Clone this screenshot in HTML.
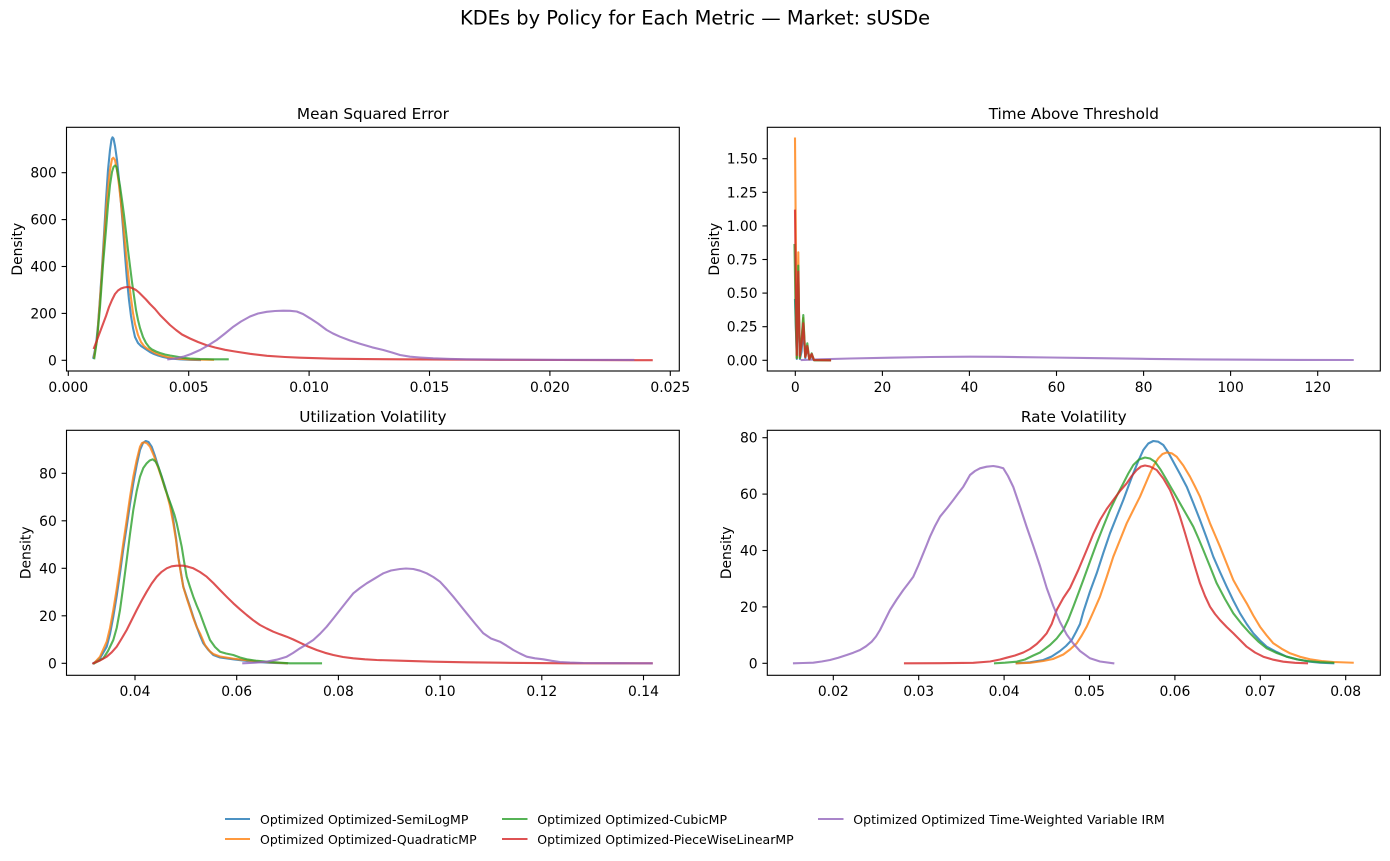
<!DOCTYPE html>
<html>
<head>
<meta charset="utf-8">
<style>
html,body{margin:0;padding:0;background:#fff;}
svg{display:block;}
text{font-family:"DejaVu Sans","Liberation Sans",sans-serif;fill:#000;}
.tk{font-size:13.89px;}
.ttl{font-size:15.28px;}
.lg{font-size:12.5px;}
.c{fill:none;stroke-width:2.1;stroke-linejoin:round;stroke-linecap:square;stroke-opacity:0.8;}
.b{stroke:#1f77b4;}.o{stroke:#ff7f0e;}.g{stroke:#2ca02c;}.r{stroke:#d62728;}.p{stroke:#9467bd;}
.ax{fill:none;stroke:#000;stroke-width:1.1;}
.t{stroke:#000;stroke-width:1.1;}
</style>
</head>
<body>
<svg width="1390" height="861" viewBox="0 0 1390 861" xmlns="http://www.w3.org/2000/svg">
<rect width="1390" height="861" fill="#fff"/>
<text x="695" y="24.5" text-anchor="middle" style="font-size:19.44px">KDEs by Policy for Each Metric — Market: sUSDe</text>

<!-- ============ Subplot 1: Mean Squared Error ============ -->
<text class="ttl" x="372.9" y="119" text-anchor="middle">Mean Squared Error</text>
<polyline class="c b" points="93.3,357.7 96,345 98,325 100,298 102,268 104,235 106,200 108,170 110,150 111.5,139.5 112.5,137.3 113.5,138.5 115,146 117,160 119,180 121,203 123,228 125,255 127,280 129,300 131,316 133,328 135,337 138,343 141,346 144,348 147,350 150,352 154,354 158,355.5 163,357 170,358.5 180,359.3 190,359.8 200,360"/>
<polyline class="c o" points="94,357 97,340 100,300 102,272 104,242 106,212 108,188 110,170 112,159 113.3,157.7 115,160 117,170 119,185 121,203 123,222 125,243 127,263 129,282 131,298 133,313 135,324 138,335 141,342 144,346 147,348.5 150,350 155,353 160,355 167,357 175,358.5 190,359.4 213,359.8"/>
<polyline class="c g" points="94.3,358.3 97,340 100,307 103,265 106,230 108,205 110,185 112,172 113.5,167 115,165.5 116.5,167 118,175 120,186 122,200 124,215 126,232 128,250 130,266 132,282 134,296 136,310 138,320 140,328 143,337 146,343 149,347 152,349.5 156,351.5 160,353 165,354.5 170,355.5 176,356.5 183,357.8 190,358.5 200,359 213,359.3 227.7,359.3"/>
<polyline class="c r" points="94,348 97,340 100,332 103,324 106,316 109,307 112,300 115,294 118,290.5 121,288.5 124,287.5 127,287 130,287.3 133,288.5 136,290 139,292.5 142,295.5 146,299.5 150,304 155,309 160,315 165,320 170,325 176,330 182,334.5 190,338.5 198,342 206,345 215,347.5 225,349.8 235,351.5 250,353.8 267,355.8 285,357 300,357.7 333,358.7 366,359.1 400,359.3 450,359.6 500,359.8 560,360 651.7,360.2"/>
<polyline class="c p" points="168.3,359.3 175,358.5 183.3,356.7 191,354 200,350 208,345.5 216.7,340 225,333.5 233.3,326.7 241,321.5 250,316.5 258,313.5 266.7,311.8 275,311 283.3,310.7 290,310.8 296.7,311.5 303,314 310,318.3 318,323.5 326.7,330 333,333.5 340,336.7 350,340.5 360,343.7 372,347.3 383.3,350 392,352.5 400,355 410,356.7 420,357.5 433.3,358.3 450,358.9 466.7,359.3 500,359.6 550,359.8 633.3,359.9"/>
<rect class="ax" x="66.5" y="127.3" width="612.8" height="243.7"/>
<g class="t">
<line x1="68.3" y1="371" x2="68.3" y2="375.9"/><line x1="188.7" y1="371" x2="188.7" y2="375.9"/><line x1="309.1" y1="371" x2="309.1" y2="375.9"/><line x1="429.5" y1="371" x2="429.5" y2="375.9"/><line x1="549.9" y1="371" x2="549.9" y2="375.9"/><line x1="670.3" y1="371" x2="670.3" y2="375.9"/>
<line x1="61.6" y1="360.3" x2="66.5" y2="360.3"/><line x1="61.6" y1="313.4" x2="66.5" y2="313.4"/><line x1="61.6" y1="266.5" x2="66.5" y2="266.5"/><line x1="61.6" y1="219.6" x2="66.5" y2="219.6"/><line x1="61.6" y1="172.7" x2="66.5" y2="172.7"/>
</g>
<g class="tk" text-anchor="middle">
<text x="68.3" y="391.8">0.000</text><text x="188.7" y="391.8">0.005</text><text x="309.1" y="391.8">0.010</text><text x="429.5" y="391.8">0.015</text><text x="549.9" y="391.8">0.020</text><text x="670.3" y="391.8">0.025</text>
</g>
<g class="tk" text-anchor="end">
<text x="56.8" y="365.3">0</text><text x="56.8" y="318.4">200</text><text x="56.8" y="271.5">400</text><text x="56.8" y="224.6">600</text><text x="56.8" y="177.7">800</text>
</g>
<text class="tk" transform="translate(22,249.2) rotate(-90)" text-anchor="middle">Density</text>

<!-- ============ Subplot 2: Time Above Threshold ============ -->
<text class="ttl" x="1073.8" y="119" text-anchor="middle">Time Above Threshold</text>
<polyline class="c p" points="801.7,360 820,359.3 850,358.5 890,357.7 930,357 970,356.7 1000,356.8 1050,357.5 1100,358.2 1150,358.9 1200,359.4 1250,359.7 1300,359.9 1352.7,360"/>
<polyline class="c b" points="795,300 796.8,359 798.3,290 799.9,359 801.5,352 803.3,330 805.3,358 807.3,348 809.3,359.5 811.7,356 814,360.2 830,360.3"/>
<polyline class="c o" points="795,138.5 795.9,250 796.8,358 797.6,310 798.3,252.3 799.1,320 799.9,358 801.3,345 803.3,318 805.3,357 807.3,346 809.3,359.3 811.7,355 814,360.2 830,360.3"/>
<polyline class="c g" points="794.5,245 795.7,320 796.8,358 797.6,300 798.3,265.7 799.1,320 799.9,358 801.5,340 803.3,315 805.3,357 807.3,343.3 809.3,359 811.7,353.3 814,360.2 830,360.3"/>
<polyline class="c r" points="795,210.7 795.9,290 796.8,355 797.6,300 798.3,271.7 799.1,320 799.8,356 801.5,345 803.3,323.3 805.3,357 807.3,346 809.3,359 811.7,354 814,360 830,360.3"/>
<rect class="ax" x="767.3" y="127.3" width="613" height="243.7"/>
<g class="t">
<line x1="795.3" y1="371" x2="795.3" y2="375.9"/><line x1="882.4" y1="371" x2="882.4" y2="375.9"/><line x1="969.4" y1="371" x2="969.4" y2="375.9"/><line x1="1056.5" y1="371" x2="1056.5" y2="375.9"/><line x1="1143.6" y1="371" x2="1143.6" y2="375.9"/><line x1="1230.6" y1="371" x2="1230.6" y2="375.9"/><line x1="1317.7" y1="371" x2="1317.7" y2="375.9"/>
<line x1="762.4" y1="360.3" x2="767.3" y2="360.3"/><line x1="762.4" y1="326.7" x2="767.3" y2="326.7"/><line x1="762.4" y1="293.1" x2="767.3" y2="293.1"/><line x1="762.4" y1="259.5" x2="767.3" y2="259.5"/><line x1="762.4" y1="225.9" x2="767.3" y2="225.9"/><line x1="762.4" y1="192.3" x2="767.3" y2="192.3"/><line x1="762.4" y1="158.7" x2="767.3" y2="158.7"/>
</g>
<g class="tk" text-anchor="middle">
<text x="795.3" y="391.8">0</text><text x="882.4" y="391.8">20</text><text x="969.4" y="391.8">40</text><text x="1056.5" y="391.8">60</text><text x="1143.6" y="391.8">80</text><text x="1230.6" y="391.8">100</text><text x="1317.7" y="391.8">120</text>
</g>
<g class="tk" text-anchor="end">
<text x="757.6" y="365.3">0.00</text><text x="757.6" y="331.7">0.25</text><text x="757.6" y="298.1">0.50</text><text x="757.6" y="264.5">0.75</text><text x="757.6" y="230.9">1.00</text><text x="757.6" y="197.3">1.25</text><text x="757.6" y="163.7">1.50</text>
</g>
<text class="tk" transform="translate(718.8,249.2) rotate(-90)" text-anchor="middle">Density</text>

<!-- ============ Subplot 3: Utilization Volatility ============ -->
<text class="ttl" x="372.9" y="422" text-anchor="middle">Utilization Volatility</text>
<polyline class="c b" points="93.3,663.3 100,658.3 106.7,646.7 110,634 113.3,616.7 116.7,596 120,573.3 123.3,549 126.7,526.7 130,504 133.3,483.3 136.7,465 140,450 143,443 145.7,441 148.5,442 151.7,446.7 155,456 158.3,466.7 161.7,476.5 165,486.7 168,497 170,503.3 172,512 173.3,520 176,538 178.3,556.7 181,573 183.3,586.7 186.7,597 190,606.7 193.3,617 196.7,626.7 200,635.5 203.3,643.3 208,649.5 213.3,655 220,657.5 233.3,659.3 253.3,661.7 270,662.8 287,663.3"/>
<polyline class="c o" points="94,663.3 100,656.7 106.7,641.7 110,628 113.3,610 116.7,589 120,566.7 123.3,543 126.7,520 130,497 133.3,476.7 136.7,460 140,446.7 142,443 144.3,442.3 147,443.3 150,446.7 154,456 158.3,468 162,479 166.7,493.3 170,506 173.3,523.3 176,540 178.3,558 181,574 183.3,587 187,599 190,608 193.3,618 196.7,627 200,633.3 205,645 210,651.5 213.3,654 220,656.5 233.3,658.7 260,661.7 286.7,663.3"/>
<polyline class="c g" points="94.3,663.3 103.3,658.3 108,651 113.3,640 116.7,628 120,610 123.3,586 126.7,560 130,534 133.3,510 136.7,491 140,476.7 143.3,468 146.7,463.3 149.7,460.5 152.7,459.3 155.5,461.5 158.3,466.7 161.7,477 165,488.3 168.3,497.5 171.7,506.7 174.5,515 176.7,523.3 179,534 181.7,546.7 184,561 186.7,576.7 190,587 193.3,596.7 196.7,605.5 200,613.3 205,627 210,640 215,647 220,651.7 226,653.5 233.3,655 240,657.5 246.7,659.3 256,660.7 266.7,661.7 280,662.7 290,663.3 321,663.3"/>
<polyline class="c r" points="93.3,663.3 100,660.5 106.7,656.7 111.7,652.3 116.7,646.7 121.7,638.5 126.7,630 131.7,620 136.7,610 141.7,600.5 146.7,591.7 151.7,583.5 156.7,576.7 161.7,571.8 166.7,568.3 171.7,566.3 176.7,565.7 183.3,565.7 188,566.7 193.3,568.3 200,572 206.7,576.7 213.3,583 220,590 226.7,596.8 233.3,603.3 240,609.3 246.7,615 253.3,620.3 260,625 266.7,628.5 273.3,631.7 280,634.3 286.7,636.7 293.3,639.5 300,642.7 308,646.5 316.7,650 325,652.8 333.3,655 343,657 353.3,658.3 365,659.3 376.7,660 400,660.7 433.3,661.7 466.7,662.3 500,662.7 566.7,663.3 651.7,663.3"/>
<polyline class="c p" points="243.3,663.3 255,662.7 266.7,661.7 276.7,659.7 286.7,656.7 293,653 300,648.3 306.7,644.3 313.3,640 320,633.8 326.7,626.7 333.3,618.5 340,610 346.7,601.5 353.3,593.3 360,588 366.7,583.3 375,578.3 383.3,573.3 391,570.5 400,569 406,568.5 413.3,569 420,570.7 426.7,573.3 433.3,577 440,581.7 446.7,589 453.3,596.7 460,605 466.7,613.3 475,623.5 483.3,633.3 491,638.5 500,641.7 506.7,645.7 513.3,650 520,653.5 526.7,656.7 535,658.3 543.3,659.3 551.7,660.8 560,662 570,662.6 583.3,663 620,663.2 651.7,663.3"/>
<rect class="ax" x="66.5" y="430.3" width="612.8" height="245"/>
<g class="t">
<line x1="135" y1="675.3" x2="135" y2="680.2"/><line x1="236.7" y1="675.3" x2="236.7" y2="680.2"/><line x1="338.4" y1="675.3" x2="338.4" y2="680.2"/><line x1="440.1" y1="675.3" x2="440.1" y2="680.2"/><line x1="541.8" y1="675.3" x2="541.8" y2="680.2"/><line x1="643.5" y1="675.3" x2="643.5" y2="680.2"/>
<line x1="61.6" y1="663.3" x2="66.5" y2="663.3"/><line x1="61.6" y1="615.8" x2="66.5" y2="615.8"/><line x1="61.6" y1="568.3" x2="66.5" y2="568.3"/><line x1="61.6" y1="520.8" x2="66.5" y2="520.8"/><line x1="61.6" y1="473.3" x2="66.5" y2="473.3"/>
</g>
<g class="tk" text-anchor="middle">
<text x="135" y="696.1">0.04</text><text x="236.7" y="696.1">0.06</text><text x="338.4" y="696.1">0.08</text><text x="440.1" y="696.1">0.10</text><text x="541.8" y="696.1">0.12</text><text x="643.5" y="696.1">0.14</text>
</g>
<g class="tk" text-anchor="end">
<text x="56.8" y="668.3">0</text><text x="56.8" y="620.8">20</text><text x="56.8" y="573.3">40</text><text x="56.8" y="525.8">60</text><text x="56.8" y="478.3">80</text>
</g>
<text class="tk" transform="translate(30.5,552.8) rotate(-90)" text-anchor="middle">Density</text>

<!-- ============ Subplot 4: Rate Volatility ============ -->
<text class="ttl" x="1073.8" y="422" text-anchor="middle">Rate Volatility</text>
<polyline class="c b" points="1016.7,663.3 1030,662.3 1043.3,660 1051.7,656.5 1060,651 1066,646 1071.7,640 1076,632 1080,624 1083.3,612 1090,591.5 1096.7,573.3 1103.3,553 1110,533.3 1116.7,516.5 1123.3,500 1128.3,486.5 1133.3,473.3 1138.3,461 1143.3,450 1148.3,443.5 1153.3,441 1158.3,441.7 1163.3,445 1168.3,452.5 1173.3,461.7 1180,474 1186.7,486.7 1193.3,503 1200,520 1206.7,538 1213.3,556.7 1220,572 1226.7,586.7 1233.3,600.5 1240,613.3 1246.7,624 1253.3,633.3 1260,640.5 1266.7,646.7 1276.7,652 1286.7,656.7 1298,659.5 1310,661.7 1320,662.7 1333.3,663.3"/>
<polyline class="c o" points="1016.7,663.3 1030,662.8 1043.3,661 1053,659 1063.3,654.5 1070,649.5 1076.7,643.3 1081.7,635.5 1086.7,626.7 1093.3,612 1100,596.7 1106.7,577 1113.3,556.7 1120,540 1126.7,523.3 1133.3,510 1140,496.7 1145,485 1150,473.3 1154,465 1158.3,458.3 1162.5,454 1166.7,452.5 1171.7,453.3 1176.7,456.7 1183.3,465.5 1190,476.7 1195,486.5 1200,496.7 1205,510 1210,523.3 1215,535 1220,546.7 1226.7,563.5 1233.3,580 1240,592 1246.7,603.3 1253.3,615.5 1260,626.7 1266.7,635.5 1273.3,643.3 1281.7,648.8 1290,653.3 1300,656.8 1310,659.3 1321.7,661 1333.3,662 1352.7,662.7"/>
<polyline class="c g" points="995,663.3 1005,662.7 1016.7,661.7 1025,659.5 1033.3,655.5 1040,652.5 1050,645 1056.7,638.5 1063.3,630 1068.3,619.5 1073.3,606.7 1078.3,593.5 1083.3,580 1090,561.5 1096.7,543.3 1103.3,526.5 1110,510 1116.7,496 1123.3,483.3 1128.3,473.5 1133.3,465 1139,459.5 1145,457.5 1150,458.5 1155,461.7 1160.8,470 1166.7,480 1173.3,491.5 1180,503.3 1186.7,515 1193.3,526.7 1198.3,538 1203.3,550 1210,566.5 1216.7,583.3 1225,599 1233.3,613.3 1241.7,624 1250,633.3 1258.3,641.5 1266.7,648.3 1276.7,653 1286.7,656.7 1296.7,659.3 1306.7,661 1320,662.2 1333.3,662.7"/>
<polyline class="c r" points="905,663.3 940,663.2 973.3,662.8 990,661.5 1000,659.5 1006.7,657.7 1015,655.5 1023.3,652.5 1030,649 1036.7,644 1041.7,639 1046.7,633.3 1051.7,624 1056.7,610 1063.3,598 1070,588 1078.3,570 1086.7,550 1093.3,534 1100,520 1106.7,509 1113.3,500 1120,491 1126.7,483.3 1131.7,476 1136.7,470 1141,466.5 1145,465.5 1150,466.5 1156.7,470 1163.3,478.5 1170,490 1175,502 1180,516.7 1185,533 1190,550 1195,567 1200,583.3 1205,596 1210,606.7 1215,614 1220,620 1226.7,627 1233.3,633.3 1240,640 1246.7,646.7 1255,652.5 1263.3,656.7 1273.3,659.7 1283.3,661.7 1295,662.8 1307,663.3"/>
<polyline class="c p" points="794,663.3 803,663 813.3,662.7 821.7,661.5 830,660 838.3,657.7 846.7,655 853.3,652.7 860,650 866,646.3 871.7,641.7 876,636.5 880,630 885,620 890,610 896.7,599.5 903.3,590 908.3,583.5 913.3,576.7 918.3,565.5 923.3,553.3 926.7,545 930,536.7 935,526 940,516.7 946.7,508.5 953.3,500 958.3,493.3 963.3,486.7 966.7,480.8 970,475 975,471 980,468.3 986.7,466.7 993.3,466 998,466.8 1003.3,468.3 1008,476 1013.3,487 1020,506.7 1026.7,527 1033.3,546 1040,566 1046.7,588 1053.3,606 1060,622 1066.7,634.5 1073.3,643.5 1080,651 1090,658.3 1100,661.5 1113.3,663.3"/>
<rect class="ax" x="767.3" y="430.3" width="613" height="245"/>
<g class="t">
<line x1="833.3" y1="675.3" x2="833.3" y2="680.2"/><line x1="918.7" y1="675.3" x2="918.7" y2="680.2"/><line x1="1004.1" y1="675.3" x2="1004.1" y2="680.2"/><line x1="1089.5" y1="675.3" x2="1089.5" y2="680.2"/><line x1="1174.9" y1="675.3" x2="1174.9" y2="680.2"/><line x1="1260.3" y1="675.3" x2="1260.3" y2="680.2"/><line x1="1345.7" y1="675.3" x2="1345.7" y2="680.2"/>
<line x1="762.4" y1="663.3" x2="767.3" y2="663.3"/><line x1="762.4" y1="606.9" x2="767.3" y2="606.9"/><line x1="762.4" y1="550.5" x2="767.3" y2="550.5"/><line x1="762.4" y1="494.1" x2="767.3" y2="494.1"/><line x1="762.4" y1="437.7" x2="767.3" y2="437.7"/>
</g>
<g class="tk" text-anchor="middle">
<text x="833.3" y="696.1">0.02</text><text x="918.7" y="696.1">0.03</text><text x="1004.1" y="696.1">0.04</text><text x="1089.5" y="696.1">0.05</text><text x="1174.9" y="696.1">0.06</text><text x="1260.3" y="696.1">0.07</text><text x="1345.7" y="696.1">0.08</text>
</g>
<g class="tk" text-anchor="end">
<text x="757.6" y="668.3">0</text><text x="757.6" y="611.9">20</text><text x="757.6" y="555.5">40</text><text x="757.6" y="499.1">60</text><text x="757.6" y="442.7">80</text>
</g>
<text class="tk" transform="translate(731.2,552.8) rotate(-90)" text-anchor="middle">Density</text>

<!-- ============ Legend ============ -->
<line class="c b" x1="225" y1="819" x2="250" y2="819" style="stroke-linecap:butt"/>
<text class="lg" x="260" y="824">Optimized Optimized-SemiLogMP</text>
<line class="c o" x1="225" y1="839" x2="250" y2="839" style="stroke-linecap:butt"/>
<text class="lg" x="260" y="844">Optimized Optimized-QuadraticMP</text>
<line class="c g" x1="502" y1="819" x2="527.5" y2="819" style="stroke-linecap:butt"/>
<text class="lg" x="537.3" y="824">Optimized Optimized-CubicMP</text>
<line class="c r" x1="502" y1="839" x2="527.5" y2="839" style="stroke-linecap:butt"/>
<text class="lg" x="537.3" y="844">Optimized Optimized-PieceWiseLinearMP</text>
<line class="c p" x1="818" y1="819" x2="843.5" y2="819" style="stroke-linecap:butt"/>
<text class="lg" x="853.3" y="824">Optimized Optimized Time-Weighted Variable IRM</text>
</svg>
</body>
</html>
